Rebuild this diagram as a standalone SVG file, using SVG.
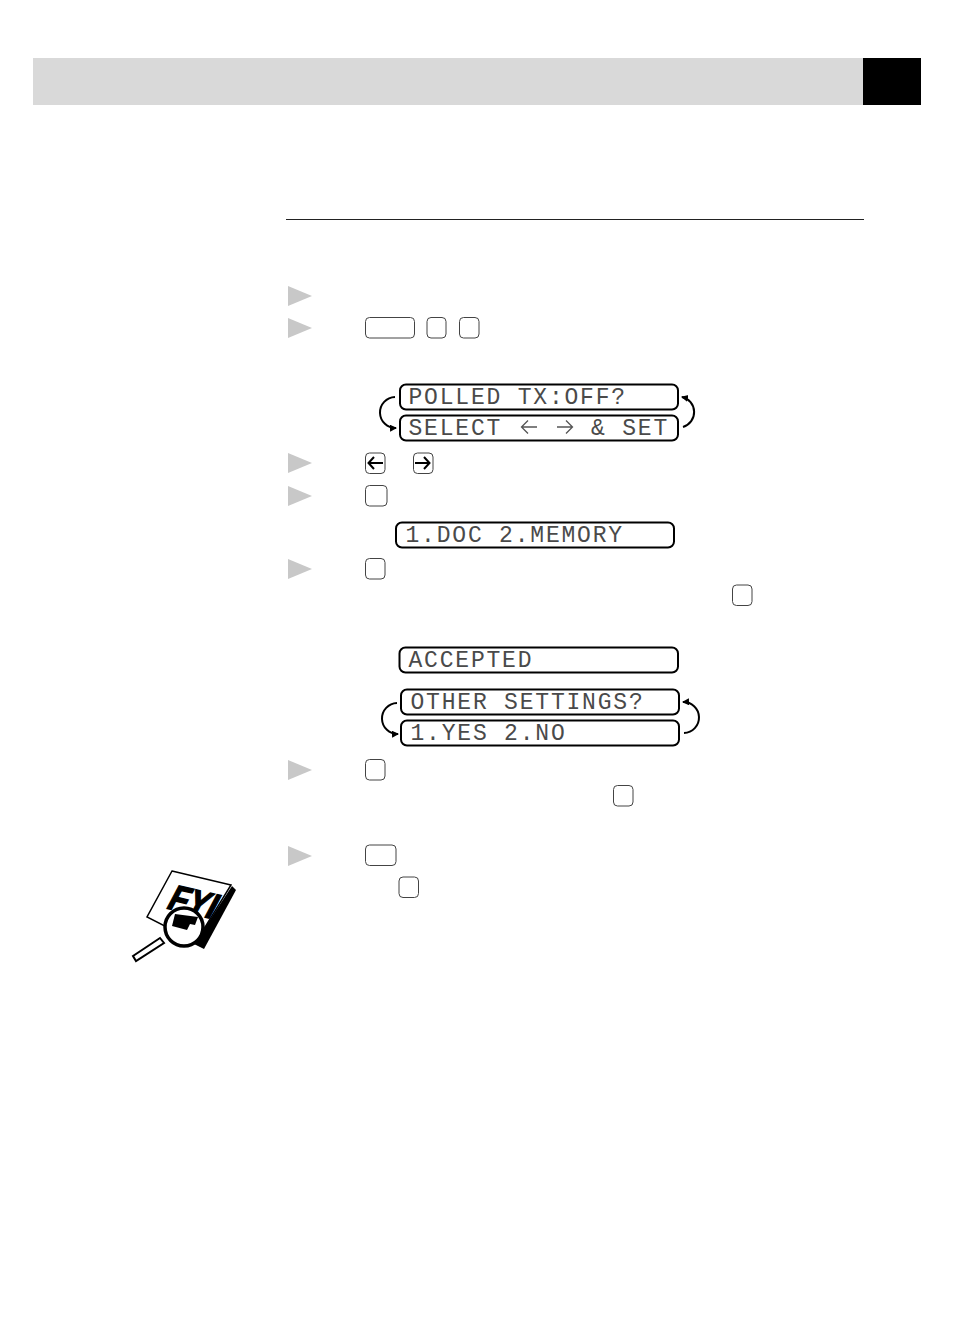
<svg xmlns="http://www.w3.org/2000/svg" width="954" height="1343" viewBox="0 0 954 1343">
<style>
.tri{fill:#c8c8c8}
.key{fill:#fff;stroke:#444;stroke-width:1}
.lcd{fill:#fff;stroke:#000;stroke-width:2}
.lt{font-family:"Liberation Mono",monospace;font-size:23px;letter-spacing:1.8px;fill:#4a4a4a}
.cv{fill:none;stroke:#000;stroke-width:2}
.ka{fill:none;stroke:#000;stroke-width:2}
</style>
<defs>
<marker id="ah" markerWidth="8" markerHeight="8" refX="6" refY="3.500" orient="auto" markerUnits="userSpaceOnUse"><path d="M0 0L7 3.500L0 7Z" fill="#000"/></marker>
</defs>
<rect width="954" height="1343" fill="#fff"/>
<g id="header"><rect x="33" y="58" width="830" height="47" fill="#d9d9d9"/><rect x="863" y="58" width="58" height="47" fill="#000"/></g>
<line id="rule" x1="286" y1="219.500" x2="864" y2="219.500" stroke="#222" stroke-width="1"/>
<g id="step-markers">
<path class="tri" d="M288 286L312 296L288 306Z"/>
<path class="tri" d="M288 318L312 328L288 338Z"/>
<path class="tri" d="M288 453L312 463L288 473Z"/>
<path class="tri" d="M288 486L312 496L288 506Z"/>
<path class="tri" d="M288 559L312 569L288 579Z"/>
<path class="tri" d="M288 760L312 770L288 780Z"/>
<path class="tri" d="M288 846L312 856L288 866Z"/>
</g>
<g id="keys">
<rect class="key" x="365.500" y="317.500" width="49" height="20.500" rx="4"/>
<rect class="key" x="427" y="317.500" width="19" height="20.500" rx="4"/>
<rect class="key" x="459.500" y="317.500" width="19.500" height="20.500" rx="4"/>
<rect class="key" x="365.500" y="453" width="19.500" height="20.500" rx="4"/>
<path class="ka" d="M383 463H369M374 457L368.500 463L374 469"/>
<rect class="key" x="413.500" y="453" width="19.500" height="20.500" rx="4"/>
<path class="ka" d="M415 463H429M424 457L429.500 463L424 469"/>
<rect class="key" x="365.500" y="485.500" width="21.500" height="20.500" rx="4"/>
<rect class="key" x="365.500" y="558.500" width="19.500" height="20.500" rx="4"/>
<rect class="key" x="732.500" y="585" width="19.500" height="20.500" rx="4"/>
<rect class="key" x="365.500" y="759.500" width="19.500" height="20.500" rx="4"/>
<rect class="key" x="613.500" y="785.500" width="19.500" height="20.500" rx="4"/>
<rect class="key" x="365.500" y="845" width="30.500" height="20.500" rx="4"/>
<rect class="key" x="399" y="877" width="19.500" height="20.500" rx="4"/>
</g>
<g id="connectors">
<path class="cv" marker-end="url(#ah)" d="M395 397A15.500 15.500 0 0 0 396 428"/>
<path class="cv" marker-end="url(#ah)" d="M683 427A15.500 15.500 0 0 0 682 397"/>
<path class="cv" marker-end="url(#ah)" d="M397 703A15.500 15.500 0 0 0 398 734"/>
<path class="cv" marker-end="url(#ah)" d="M684 733A15.500 15.500 0 0 0 683 702"/>
</g>
<g id="lcd-polled"><rect class="lcd" x="400" y="384.500" width="278" height="25" rx="6"/><text class="lt" x="408.500" y="404">POLLED TX:OFF?</text></g>
<g id="lcd-select"><rect class="lcd" x="400" y="415.500" width="278" height="25" rx="6"/><text class="lt" x="408.500" y="435">SELECT</text>
<path d="M537 427H522M528 420.500L521.500 427L528 433.500M557 427H572M566 420.500L572.500 427L566 433.500" fill="none" stroke="#555" stroke-width="1.300"/>
<text class="lt" x="591" y="435">&amp; SET</text></g>
<g id="lcd-doc"><rect class="lcd" x="396" y="522.500" width="278" height="25" rx="6"/><text class="lt" x="405.500" y="542">1.DOC 2.MEMORY</text></g>
<g id="lcd-accepted"><rect class="lcd" x="399.500" y="647.500" width="278.500" height="25" rx="6"/><text class="lt" x="408.500" y="667">ACCEPTED</text></g>
<g id="lcd-other"><rect class="lcd" x="401" y="689.500" width="278" height="25" rx="6"/><text class="lt" x="410.500" y="709">OTHER SETTINGS?</text></g>
<g id="lcd-yes"><rect class="lcd" x="401" y="720.500" width="278" height="25" rx="6"/><text class="lt" x="410.500" y="740">1.YES 2.NO</text></g>
<g id="fyi-icon">
<path d="M232 886L236 890L204 949L194 944Z" fill="#000"/>
<path d="M172 871L231 885L196 942L147 917Z" fill="#fff" stroke="#000" stroke-width="1.500"/>
<text transform="translate(165 908) rotate(13) skewX(-15) scale(.85 1)" font-family="'Liberation Sans',sans-serif" font-weight="700" font-size="36" fill="#000" stroke="#000" stroke-width="1.500">FYI</text>
<path d="M160 938L133 956L136 961L164 943Z" fill="#fff" stroke="#000" stroke-width="2"/>
<circle cx="184" cy="927" r="19" fill="#fff" stroke="#000" stroke-width="3.500"/>
<path d="M175 914L198 917L195 925L190 924L187 930L172 926Z" fill="#000"/>
</g>
</svg>
